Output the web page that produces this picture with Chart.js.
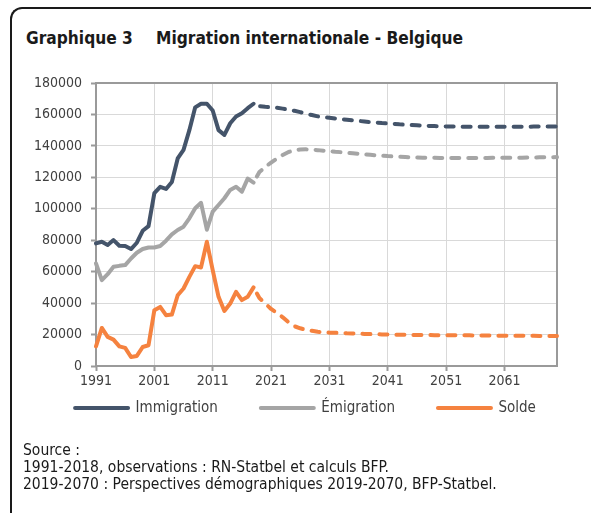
<!DOCTYPE html>
<html>
<head>
<meta charset="utf-8">
<script src="https://cdn.jsdelivr.net/npm/chart.js@4.4.1/dist/chart.umd.min.js"></script>
<style>
  body { margin: 0; background: #fff; width: 591px; height: 513px; overflow: hidden; position: relative;
         font-family: 'DejaVu Sans Condensed', 'DejaVu Sans', sans-serif; color: #1a1a1a; }
  #frame { position: absolute; left: 10px; top: 7px; width: 700px; height: 600px;
           border-top: 2px solid #1a1a1a; border-left: 2px solid #1a1a1a; border-top-left-radius: 12px; }
  .title { position: absolute; top: 28px; font-weight: bold; font-size: 17.2px; line-height: 20px; white-space: nowrap; }
  #wrap { position: absolute; left: 0; top: 0; width: 591px; height: 513px; }
  .source { position: absolute; left: 23px; top: 442px; font-size: 15.5px; line-height: 16.8px; white-space: nowrap; }
</style>
</head>
<body>
<div id="frame"></div>
<div class="title" style="left:26px">Graphique 3</div>
<div class="title" style="left:156px">Migration internationale - Belgique</div>
<div id="wrap"><canvas id="chart"></canvas></div>
<div class="source">Source :<br>1991-2018, observations : RN-Statbel et calculs BFP.<br>2019-2070 : Perspectives démographiques 2019-2070, BFP-Statbel.</div>
<script>
// years 1991..2070 (observations jusqu'en 2018, ensuite perspectives)
const years = Array.from({length: 80}, (_, i) => String(1991 + i));
const tickYears = ['1991', '2001', '2011', '2021', '2031', '2041', '2051', '2061'];
const lastObserved = '2018';

const immigration = [
  78000, 79000, 77000, 80100, 76500, 76300, 74400, 78400, 86000, 89000,
  110000, 114000, 112600, 117000, 132000, 137500, 150000, 164500, 166800, 166800,
  162500, 150000, 147000, 154400, 158700, 160800, 164000, 166800, 165300, 164900,
  164600, 164200, 163700, 163000, 162300, 161500, 160400, 159600, 158800, 158300,
  157900, 157400, 157000, 156600, 156200, 155900, 155500, 155100, 154800, 154500,
  154300, 154000, 153700, 153500, 153300, 153100, 152900, 152700, 152600, 152500,
  152400, 152300, 152300, 152200, 152200, 152200, 152200, 152200, 152200, 152200,
  152200, 152200, 152200, 152200, 152200, 152300, 152300, 152300, 152300, 152300
];
const emigration = [
  65200, 54600, 58400, 63100, 63700, 64200, 68400, 72000, 74400, 75400,
  75400, 76300, 79700, 83700, 86500, 88600, 93900, 100300, 103800, 86700,
  98200, 102400, 106700, 112000, 114000, 110900, 119200, 116600, 123400, 126600,
  129400, 132000, 134200, 136100, 137200, 137700, 137800, 137600, 137300, 136900,
  136700, 136300, 136000, 135600, 135300, 135000, 134600, 134300, 134000, 133800,
  133500, 133300, 133100, 132900, 132700, 132600, 132500, 132400, 132400, 132300,
  132300, 132300, 132300, 132300, 132300, 132300, 132300, 132300, 132400, 132400,
  132400, 132500, 132500, 132500, 132600, 132600, 132700, 132700, 132800, 132900
];
const solde = [
  12500, 24200, 18500, 16800, 12500, 11500, 5700, 6400, 12100, 13200,
  35500, 37600, 32300, 32700, 45000, 49300, 56700, 63500, 62700, 79000,
  61000, 44000, 35000, 39700, 47200, 41900, 44000, 50000, 43200, 39800,
  36300, 33700, 31000, 27800, 25300, 24000, 23000, 22400, 21800, 21400,
  21200, 21100, 21000, 20800, 20700, 20500, 20400, 20300, 20200, 20100,
  20000, 19900, 19800, 19800, 19700, 19700, 19700, 19700, 19600, 19600,
  19600, 19600, 19500, 19500, 19500, 19400, 19400, 19400, 19300, 19300,
  19300, 19300, 19200, 19200, 19200, 19200, 19100, 19100, 19100, 19100
];

const obsEnd = years.indexOf(lastObserved);
const dashed = ctx => ctx.p0DataIndex >= obsEnd ? [8, 9] : undefined;
const dashOffset = ctx => ctx.p0DataIndex >= obsEnd ? 10 : undefined;

function serie(label, data, color) {
  return {
    label: label,
    data: data,
    borderColor: color,
    backgroundColor: color,
    borderWidth: 4,
    borderCapStyle: 'round',
    borderJoinStyle: 'round',
    pointRadius: 0,
    pointHoverRadius: 0,
    tension: 0,
    segment: { borderDash: dashed, borderDashOffset: dashOffset }
  };
}

// cadre gris autour de la zone de tracé + légende sur une ligne, recentrée
const plotBox = {
  id: 'plotBox',
  afterInit(chart) {
    const lg = chart.legend;
    if (!lg) return;
    const fit = lg.fit;
    lg.fit = function () { this.maxWidth = 700; fit.call(this); };
  },
  afterLayout(chart) {
    const lg = chart.legend;
    if (!lg) return;
    const h = lg.height;
    lg.left = 29;
    lg.right = 582;
    lg.width = 582 - 29;
    lg.top = 357.5;
    lg.bottom = 357.5 + h;
  },
  beforeDatasetsDraw(chart) {
    const a = chart.chartArea, c = chart.ctx;
    c.save();
    c.strokeStyle = '#9a9a9a';
    c.lineWidth = 2;
    c.strokeRect(a.left, a.top, a.right - a.left, a.bottom - a.top);
    c.restore();
  }
};

Chart.defaults.font.family = "'DejaVu Sans Condensed', 'DejaVu Sans', sans-serif";
Chart.defaults.color = '#404040';

new Chart('chart', {
  type: 'line',
  data: {
    labels: years,
    datasets: [
      serie('Immigration', immigration, '#44546a'),
      serie('Émigration', emigration, '#a5a5a5'),
      serie('Solde', solde, '#f5823f')
    ]
  },
  options: {
    responsive: true,
    maintainAspectRatio: false,
    animation: false,
    layout: { padding: { left: 0, right: 34, top: 83, bottom: 55 } },
    plugins: {
      tooltip: { enabled: false },
      legend: {
        position: 'bottom',
        labels: {
          boxWidth: 53,
          boxHeight: 0,
          padding: 43,
          color: '#404040',
          font: { size: 15 }
        }
      }
    },
    scales: {
      x: {
        type: 'category',
        offset: false,
        afterFit: s => { s.height = 24; },
        border: { display: false },
        grid: {
          color: ctx => tickYears.includes(years[ctx.index]) ? '#d9d9d9' : 'transparent',
          tickColor: ctx => tickYears.includes(years[ctx.index]) ? '#9a9a9a' : 'transparent',
          borderDash: [4, 3],
          tickBorderDash: [],
          tickLength: 5,
          lineWidth: 1,
          tickWidth: 2
        },
        ticks: {
          autoSkip: false,
          maxRotation: 0,
          minRotation: 0,
          padding: 2,
          font: { size: 14 },
          callback: function (v, i) { return tickYears.includes(years[i]) ? years[i] : ''; }
        }
      },
      y: {
        min: 0,
        max: 180000,
        afterFit: s => { s.width = 96; },
        border: { display: false },
        grid: {
          color: ctx => ctx.tick && ctx.tick.value === 0 ? 'transparent' : '#d9d9d9',
          tickColor: '#9a9a9a',
          borderDash: [4, 3],
          tickBorderDash: [],
          tickLength: 5,
          tickWidth: 2
        },
        ticks: {
          stepSize: 20000,
          padding: 9,
          font: { size: 14 },
          callback: v => String(v)
        }
      }
    }
  },
  plugins: [plotBox]
});
</script>
</body>
</html>
